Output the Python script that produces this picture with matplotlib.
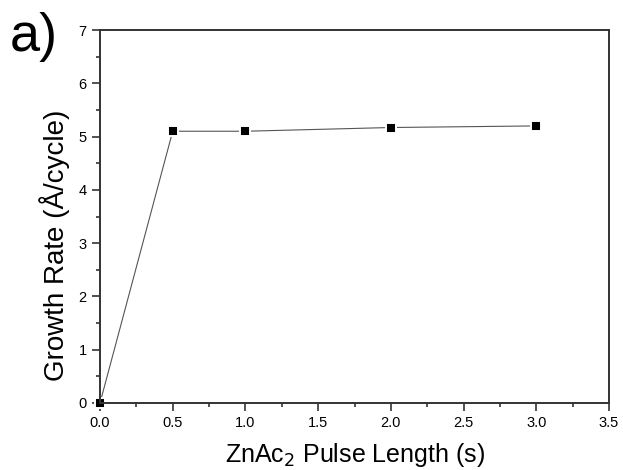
import matplotlib
matplotlib.use("Agg")
import matplotlib.pyplot as plt
from matplotlib.ticker import MultipleLocator

plt.rcParams['font.family'] = ['Liberation Sans', 'DejaVu Sans']

pulse = [0.0, 0.5, 1.0, 2.0, 3.0]
rate = [0.0, 5.1, 5.1, 5.17, 5.2]

fig = plt.figure(figsize=(6.23, 4.70), dpi=100)
ax = fig.add_axes([100/623, 1-403/470, (609-100)/623, (403-30)/470])
ax.plot(pulse, rate, color='#555555', lw=0.8, marker='s', ms=7.8, mfc='black',
        mec='white', mew=1.4, clip_on=False)
ax.set_xlim(0, 3.5)
ax.set_ylim(0, 7)
ax.xaxis.set_major_locator(MultipleLocator(0.5))
ax.xaxis.set_minor_locator(MultipleLocator(0.25))
ax.yaxis.set_major_locator(MultipleLocator(1))
ax.yaxis.set_minor_locator(MultipleLocator(0.5))
for s in ax.spines.values():
    s.set_linewidth(1.4)
    s.set_color('#333333')
ax.tick_params(which='both', direction='out', top=False, right=False, color='#333333', width=1.2)
ax.tick_params(which='major', length=5.5, labelsize=10.5, pad=4)
ax.tick_params(which='minor', length=3)
ax.set_xlabel('ZnAc$_2$ Pulse Length (s)', fontsize=18, labelpad=8)
ax.set_ylabel('Growth Rate (Å/cycle)', fontsize=20)
ax.yaxis.set_label_coords(-0.059, 0.424)
fig.text(0.015, 0.975, 'a)', fontsize=39, va='top', ha='left')
fig.savefig('out.png', dpi=100)
